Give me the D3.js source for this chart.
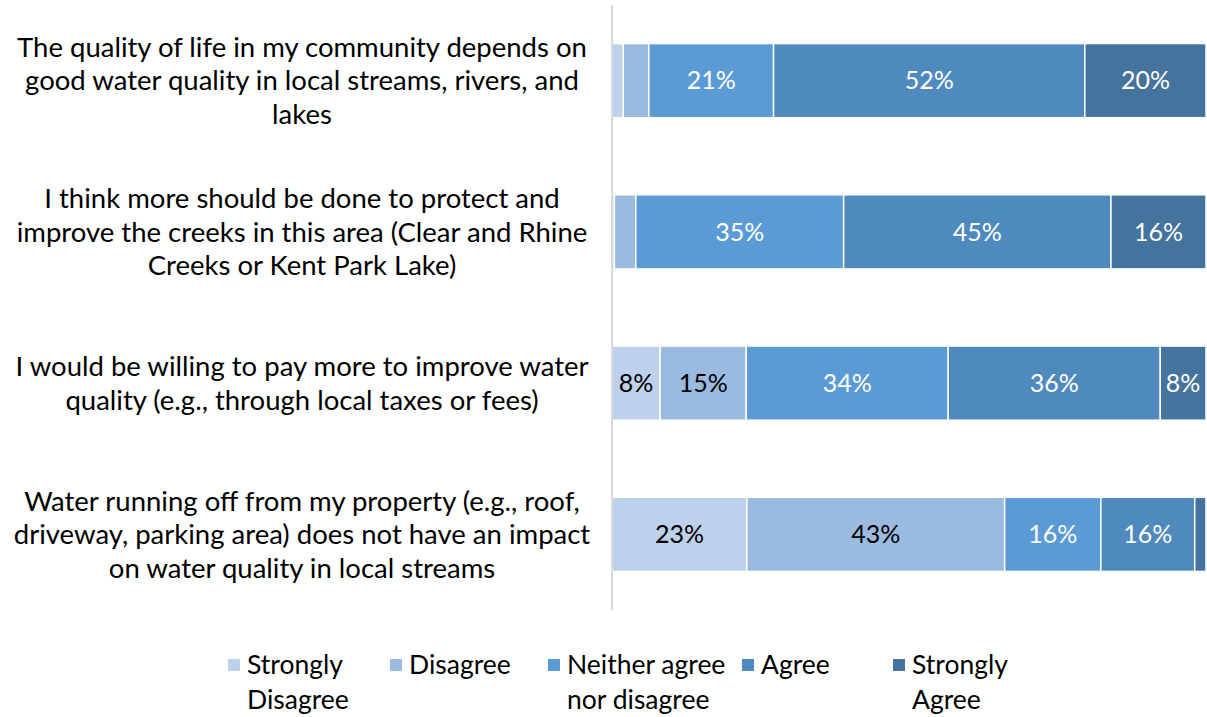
<!DOCTYPE html>
<html>
<head>
<meta charset="utf-8">
<script src="https://cdn.jsdelivr.net/npm/d3@7"></script>
<style>
  body { margin: 0; background: #fff; }
  text { font-family: Lato, "Open Sans", sans-serif; }
</style>
</head>
<body>
<div id="chart"></div>
<script>
// statements, already wrapped as in the picture
var statements = [
  ["The quality of life in my community depends on", "good water quality in local streams, rivers, and", "lakes"],
  ["I think more should be done to protect and", "improve the creeks in this area (Clear and Rhine", "Creeks or Kent Park Lake)"],
  ["I would be willing to pay more to improve water", "quality (e.g., through local taxes or fees)"],
  ["Water running off from my property (e.g., roof,", "driveway, parking area) does not have an impact", "on water quality in local streams"]
];

var responses = ["Strongly Disagree", "Disagree", "Neither agree nor disagree", "Agree", "Strongly Agree"];
var legendLines = [["Strongly", "Disagree"], ["Disagree"], ["Neither agree", "nor disagree"], ["Agree"], ["Strongly", "Agree"]];
var colors = ["#bed1ec", "#9abae0", "#5b9bd5", "#4f8abf", "#44739e"];
var labelColors = ["#000", "#000", "#fff", "#fff", "#fff"];

// percent per statement, one array per response
var stronglyDisagree = [1.9, 0.4, 8.1, 22.7];
var disagree         = [4.3, 3.6, 14.5, 43.4];
var neither          = [21, 35, 34, 16.2];
var agree            = [52.4, 45, 35.7, 15.8];
var stronglyAgree    = [20.4, 16, 7.7, 1.9];

var series = [stronglyDisagree, disagree, neither, agree, stronglyAgree];

var W = 1207, H = 717;
var margin = {top: 5, right: 1, bottom: 107, left: 612};
var width = W - margin.left - margin.right,
    height = H - margin.top - margin.bottom;

var rows = statements.map(function(s, i) {
  var r = {i: i};
  responses.forEach(function(k, j) { r[k] = series[j][i]; });
  return r;
});

var stack = d3.stack().keys(responses);
var layers = stack(rows);

var x = d3.scaleLinear().domain([0, 100]).range([0, width]);
var y = d3.scaleBand().domain(d3.range(statements.length)).range([0, height]).paddingInner(0.51).paddingOuter(0.255);

var svg = d3.select("#chart").append("svg")
    .attr("width", W)
    .attr("height", H)
  .append("g")
    .attr("transform", "translate(" + margin.left + "," + margin.top + ")");

var layer = svg.selectAll(".layer")
    .data(layers)
  .enter().append("g")
    .attr("class", "layer")
    .attr("fill", function(d, j) { return colors[j]; });

layer.selectAll("rect")
    .data(function(d) { return d; })
  .enter().append("rect")
    .attr("x", function(d) { return x(d[0]); })
    .attr("y", function(d, i) { return y(i); })
    .attr("width", function(d) { return x(d[1]) - x(d[0]); })
    .attr("height", y.bandwidth())
    .attr("stroke", "#fff")
    .attr("stroke-width", 1.5);

// data labels
layer.each(function(L, j) {
  d3.select(this).selectAll("text")
      .data(L.filter(function(d) { return d[1] - d[0] >= 5; }))
    .enter().append("text")
      .attr("x", function(d) { return x((d[0] + d[1]) / 2); })
      .attr("y", function(d) { return y(d.data.i) + y.bandwidth() / 2; })
      .attr("dy", "0.35em")
      .attr("text-anchor", "middle")
      .style("font-size", "25px")
      .attr("fill", labelColors[j])
      .text(function(d) { return Math.round(d[1] - d[0]) + "%"; });
});

// vertical axis line
svg.append("line")
    .attr("x1", 0).attr("x2", 0)
    .attr("y1", 0).attr("y2", height)
    .attr("stroke", "#d9d9d9")
    .attr("stroke-width", 2);

// category labels
var lineH = 33.5;
statements.forEach(function(lines, i) {
  var cy = y(i) + y.bandwidth() / 2;
  var t = svg.append("text")
      .attr("text-anchor", "middle")
      .style("font-size", "27.5px")
      .attr("fill", "#000");
  lines.forEach(function(l, k) {
    t.append("tspan")
      .attr("x", 302 - margin.left)
      .attr("y", cy + (k - (lines.length - 1) / 2) * lineH)
      .attr("dy", "0.35em")
      .text(l);
  });
});

// legend
var legendX = [228, 390, 548, 742, 893];
var legend = d3.select("svg").append("g");
responses.forEach(function(r, j) {
  var g = legend.append("g").attr("transform", "translate(" + legendX[j] + ",665)");
  g.append("rect")
    .attr("x", 0).attr("y", -6)
    .attr("width", 12).attr("height", 12)
    .attr("fill", colors[j]);
  var t = g.append("text")
    .style("font-size", "26.5px")
    .attr("fill", "#000");
  legendLines[j].forEach(function(l, k) {
    t.append("tspan")
      .attr("x", 19)
      .attr("y", k * 35)
      .attr("dy", "0.35em")
      .text(l);
  });
});
</script>
</body>
</html>
